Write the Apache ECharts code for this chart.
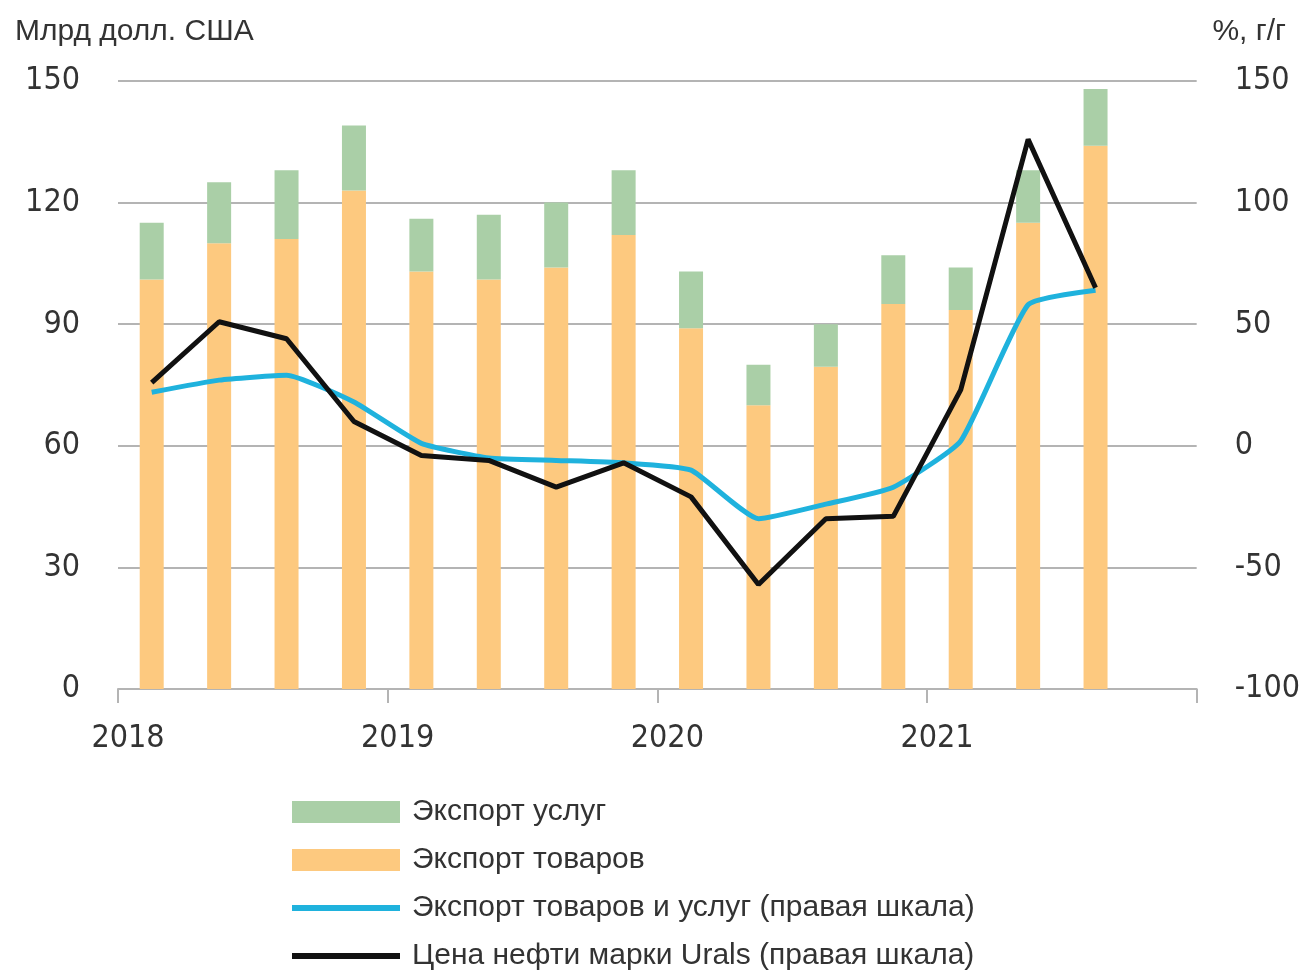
<!DOCTYPE html>
<html>
<head>
<meta charset="utf-8">
<title>Экспорт</title>
<script src="https://cdn.jsdelivr.net/npm/echarts@6/dist/echarts.min.js"></script>
<style>
  html, body { margin: 0; padding: 0; background: #ffffff; }
  #chart { width: 1303px; height: 980px; }
</style>
</head>
<body>
<div id="chart"></div>
<script>
// кварталы 2018Q1 - 2021Q3, последний слот оси пустой
var quarters = ['2018Q1', '2018Q2', '2018Q3', '2018Q4', '2019Q1', '2019Q2', '2019Q3', '2019Q4',
  '2020Q1', '2020Q2', '2020Q3', '2020Q4', '2021Q1', '2021Q2', '2021Q3', '']
var yearLabels = ['2018', '2019', '2020', '2021']
// млрд долл. США
var goods = [101, 110, 111, 123, 103, 101, 104, 112, 89, 70, 79.5, 95, 93.5, 115, 134]
var services = [14, 15, 17, 16, 13, 16, 16, 16, 14, 10, 10.5, 12, 10.5, 13, 14]
// %, г/г (правая шкала)
var exportTotal = [22, 27, 29, 18, 1, -5, -6, -7, -10, -30, -24, -17, 2, 58, 64]
var urals = [26, 51, 44, 10, -4, -6, -17, -7, -21, -57, -30, -29, 23, 126, 65]

var fontMain = '"Liberation Sans", "DejaVu Sans", sans-serif'
var fontNum = '"DejaVu Sans Condensed", "Liberation Sans", sans-serif'
var textColor = '#333333'
var gridColor = '#b4b4b4'
// тонкая полоса по центру иконки легенды (углы задают размер)
var lineIcon = 'path://M0,0L0.05,0L0.05,0.05Z M0,8L108,8L108,14L0,14Z M107.95,21.95L108,21.95L108,22Z'

var myChart = echarts.init(document.getElementById('chart'))
var option = {
  animation: false,
  backgroundColor: '#ffffff',
  title: [
    {
      text: 'Млрд долл. США',
      left: 10,
      top: 12,
      textStyle: { color: textColor, fontSize: 30, fontWeight: 'normal', fontFamily: fontMain }
    },
    {
      text: '%, г/г',
      right: 12,
      top: 12,
      textStyle: { color: textColor, fontSize: 30, fontWeight: 'normal', fontFamily: fontMain }
    }
  ],
  grid: {
    left: 118,
    right: 103,
    top: 81,
    bottom: 291
  },
  legend: {
    orient: 'vertical',
    left: 292,
    top: 797,
    padding: 0,
    itemWidth: 108,
    itemHeight: 22,
    itemGap: 18,
    textStyle: { color: textColor, fontSize: 30, fontFamily: fontMain, padding: [0, 0, 0, 7] },
    data: [
      { name: 'Экспорт услуг', icon: 'rect' },
      { name: 'Экспорт товаров', icon: 'rect' },
      { name: 'Экспорт товаров и услуг (правая шкала)', icon: lineIcon },
      { name: 'Цена нефти марки Urals (правая шкала)', icon: lineIcon }
    ]
  },
  xAxis: [
    {
      type: 'category',
      data: quarters,
      show: false
    },
    {
      type: 'value',
      position: 'bottom',
      min: 0,
      max: 16,
      interval: 4,
      axisLine: { show: true, onZero: false, lineStyle: { color: gridColor, width: 2 } },
      axisTick: { show: true, length: 14, lineStyle: { color: gridColor, width: 2 } },
      splitLine: { show: false },
      axisLabel: {
        margin: 34,
        color: textColor,
        fontSize: 32,
        fontFamily: fontNum,
        padding: [0, 0, 0, 20],
        formatter: function(v) {
          var k = Math.round(v / 4)
          return yearLabels[k] || ''
        }
      }
    }
  ],
  yAxis: [
    {
      type: 'value',
      min: 0,
      max: 150,
      interval: 30,
      axisLine: { show: false },
      axisTick: { show: false },
      splitLine: { lineStyle: { color: gridColor, width: 2 } },
      axisLabel: { margin: 38, color: textColor, fontSize: 32, fontFamily: fontNum }
    },
    {
      type: 'value',
      min: -100,
      max: 150,
      interval: 50,
      axisLine: { show: false },
      axisTick: { show: false },
      splitLine: { show: false },
      axisLabel: { margin: 38, color: textColor, fontSize: 32, fontFamily: fontNum }
    }
  ],
  series: [
    {
      name: 'Экспорт товаров',
      type: 'bar',
      stack: 'exp',
      barWidth: 24,
      itemStyle: { color: '#fdc97f' },
      data: goods
    },
    {
      name: 'Экспорт услуг',
      type: 'bar',
      stack: 'exp',
      barWidth: 24,
      itemStyle: { color: '#aacfa7' },
      data: services
    },
    {
      name: 'Экспорт товаров и услуг (правая шкала)',
      type: 'line',
      yAxisIndex: 1,
      symbol: 'none',
      smooth: 0.15,
      lineStyle: { color: '#1fb2dd', width: 5 },
      itemStyle: { color: '#1fb2dd' },
      data: exportTotal
    },
    {
      name: 'Цена нефти марки Urals (правая шкала)',
      type: 'line',
      yAxisIndex: 1,
      symbol: 'none',
      lineStyle: { color: '#111111', width: 5 },
      itemStyle: { color: '#111111' },
      data: urals
    }
  ]
}
myChart.setOption(option)
</script>
</body>
</html>
